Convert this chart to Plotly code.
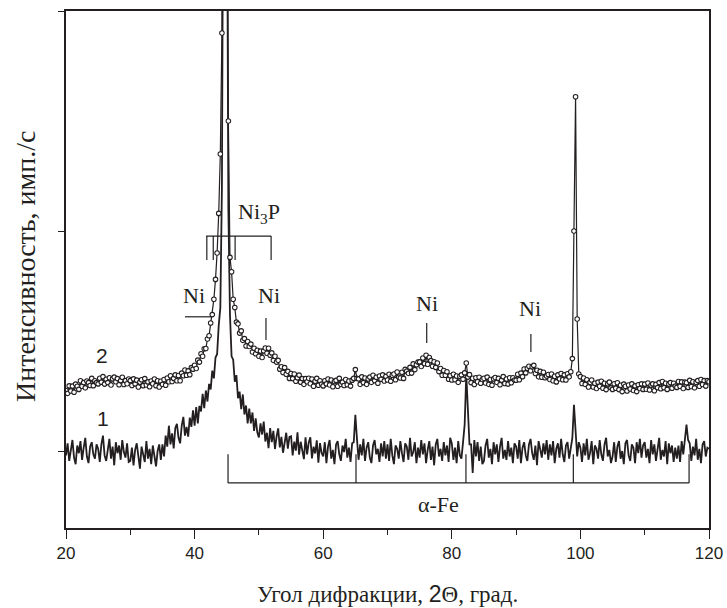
import plotly.graph_objects as go

# 2-theta scan grid: 20..120 deg, step 0.25 deg
x_start, x_step = 20.0, 0.25

# curve 1 (lower, solid line) intensity, arbitrary units (1000 per y tick)
y1 = [
    -20, 35, -45, 10, 50, -30, -60, 25, -10, 45, -40, 15, 60, -25, -55, 20, 40, -15, -35, 30,
    10, -50, 30, 70, -20, -45, 5, 55, -35, 20, -65, 40, -10, 25, -40, 50, -5, -30, 35, -50,
    -45, 15, -65, 5, 35, -30, -80, 20, -10, -50, 45, -35, 10, -60, 25, -25, -70, 0, 30, -40,
    30, -25, 70, 20, 115, 30, 80, 12, 105, 123, 60, 35, 115, 155, 70, 110, 65, 152, 110, 185,
    115, 200, 125, 205, 180, 260, 195, 275, 225, 305, 280, 365, 330, 425, 440, 570, 650, 1200, 3000, 5000,
    3000, 1100, 620, 430, 415, 315, 345, 240, 270, 190, 257, 166, 207, 125, 193, 126, 175, 91, 148, 85,
    62, 126, 75, 134, 43, 83, 13, 104, 40, 92, 9, 66, 103, 16, 64, -8, 45, 83, 11, 64,
    67, -20, 43, 2, 85, -17, 42, 10, -37, 62, -15, 39, 62, -34, 20, -11, 48, -53, 36, -9,
    -25, 40, -55, 20, 50, -35, 5, -60, 30, 45, -15, -45, 25, -5, 55, -30, 15, -50, 35, 40,
    165, 55, -40, 30, -20, 55, -45, 15, 40, -30, -55, 25, 50, -15, 10, -50, 35, -25, 45, -35,
    30, -45, 55, -20, -60, 25, 10, -35, 45, -10, -50, 35, 20, -40, 60, -25, -5, 40, -55, 15,
    -30, 50, -15, 35, -55, 5, 45, -40, 20, -65, 30, 55, -25, 10, -45, 40, -20, 25, -50, 60,
    35, -40, 15, -55, 45, -20, -35, 40, 120, 350, 150, 30, 30, -100, 50, -25, 40, -45, 20, -60,
    -45, 25, 55, -30, 10, -60, 40, -15, 30, -50, 20, 60, -35, 5, -40, 45, -25, 15, -55, 35,
    20, -35, 50, -55, 15, 40, -20, -45, 30, 55, -10, -40, 25, -65, 45, 0, -30, 35, -15, 50,
    -40, 30, -20, 45, -55, 10, 35, -30, 55, -15, -50, 25, 40, -35, 15, 60, 210, 80, -25, 40,
    15, -50, 35, -20, 55, -40, -10, 45, -60, 25, 10, -35, 50, -15, -45, 30, 60, -25, 5, -55,
    -25, 40, -50, 20, 45, -35, 0, -60, 35, 50, -20, -45, 30, 15, -55, 40, -10, 55, -30, 25,
    40, -30, 10, -55, 50, -15, 30, -45, 20, 60, -40, 5, -25, 45, -60, 35, -10, 25, -50, 15,
    -35, 25, -50, 45, -15, 60, 120, 50, 35, -45, 20, -20, 55, -40, 10, -55, 30, 45, -25, 15,
    10,
]

# curve 2 (upper, open circles) intensity
y2 = [
    275, 262, 296, 273, 295, 267, 304, 294, 280, 319, 294, 311, 287, 318, 311, 298, 330, 297, 319, 311,
    305, 331, 313, 338, 304, 326, 311, 333, 300, 328, 336, 315, 329, 301, 320, 335, 302, 320, 306, 327,
    320, 298, 328, 305, 322, 291, 313, 324, 297, 329, 300, 314, 292, 318, 306, 327, 297, 319, 291, 317,
    303, 325, 299, 332, 315, 342, 316, 330, 346, 319, 343, 319, 354, 342, 368, 344, 364, 347, 379, 372,
    390, 375, 413, 404, 442, 431, 465, 466, 509, 524, 582, 620, 690, 780, 900, 1080, 1350, 1900, 3200, 6000,
    3000, 1500, 880, 815, 690, 652, 586, 578, 536, 546, 503, 511, 477, 498, 475, 486, 450, 467, 442, 458,
    431, 454, 425, 455, 468, 444, 467, 435, 446, 412, 431, 404, 412, 372, 383, 357, 379, 349, 362, 330,
    352, 329, 350, 317, 333, 345, 313, 329, 303, 329, 315, 331, 306, 327, 294, 317, 330, 299, 319, 304,
    296, 319, 305, 327, 300, 323, 292, 316, 321, 294, 330, 303, 313, 298, 325, 301, 318, 295, 322, 330,
    370, 330, 328, 303, 337, 311, 332, 303, 327, 336, 312, 344, 320, 335, 308, 341, 326, 346, 318, 339,
    323, 349, 317, 344, 350, 324, 359, 336, 332, 358, 330, 371, 363, 353, 380, 354, 396, 370, 392, 404,
    405, 384, 423, 397, 435, 394, 425, 411, 385, 406, 380, 400, 361, 375, 344, 366, 344, 360, 326, 342,
    323, 349, 324, 341, 312, 340, 346, 326, 355, 400, 336, 347, 311, 331, 302, 333, 315, 335, 308, 325,
    331, 309, 336, 303, 325, 299, 328, 334, 312, 330, 301, 322, 338, 307, 327, 304, 333, 310, 333, 323,
    322, 349, 324, 354, 338, 373, 355, 376, 385, 365, 383, 389, 352, 367, 337, 362, 335, 358, 333, 341,
    348, 325, 350, 319, 340, 314, 346, 328, 352, 324, 346, 323, 351, 337, 360, 420, 1000, 1610, 600, 350,
    338, 307, 332, 303, 324, 291, 312, 323, 291, 308, 284, 313, 294, 317, 285, 308, 279, 305, 313, 287,
    280, 306, 285, 310, 279, 299, 270, 304, 294, 273, 300, 282, 305, 275, 296, 270, 301, 284, 305, 280,
    304, 281, 309, 277, 299, 305, 274, 303, 288, 311, 283, 316, 288, 308, 280, 304, 311, 285, 308, 295,
    289, 316, 294, 314, 284, 313, 310, 289, 321, 293, 315, 287, 312, 320, 294, 325, 302, 320, 295, 320,
    315,
]

x = [x_start + x_step * i for i in range(len(y1))]

x_ticks = [20, 40, 60, 80, 100, 120]
x_minor = [30, 50, 70, 90, 110]
y_ticks = [0, 1000, 2000]

# reflection markers (2-theta positions)
ni3p_pos = [41.9, 42.9, 46.3, 51.9]
fe_pos = [45.2, 65.1, 82.2, 98.9, 116.9]

INK = "#231f20"
SERIF = "Liberation Serif"
SANS = "Liberation Sans"

fig = go.Figure()
fig.add_trace(go.Scatter(x=x, y=y1, mode="lines",
                         line=dict(color=INK, width=1.8), showlegend=False))
fig.add_trace(go.Scatter(x=x, y=y2, mode="lines+markers",
                         line=dict(color=INK, width=1.2),
                         marker=dict(symbol="circle", size=4.5, color="white",
                                     line=dict(color=INK, width=1.1)),
                         showlegend=False))

shapes = []
def seg(x0, y0, x1, y1_, w=1.2):
    shapes.append(dict(type="line", xref="x", yref="y", x0=x0, y0=y0, x1=x1, y1=y1_,
                       line=dict(color=INK, width=w)))

# Ni3P bracket
seg(41.8, 977, 51.9, 977)
for p in ni3p_pos:
    seg(p, 977, p, 868)
# Ni markers
seg(38.5, 610, 42.6, 610)
seg(51.1, 605, 51.1, 505)
seg(76.1, 582, 76.1, 491)
seg(92.3, 532, 92.3, 450)
# alpha-Fe bracket
seg(fe_pos[0], -145, fe_pos[-1], -145)
for p in fe_pos:
    seg(p, -145, p, -15)

ann = []
def txt(xv, yv, t, size=22, fam=SERIF):
    ann.append(dict(x=xv, y=yv, xref="x", yref="y", text=t, showarrow=False,
                    font=dict(family=fam, size=size, color=INK),
                    xanchor="center", yanchor="middle"))

txt(50.0, 1080, "Ni<sub>3</sub>P")
txt(39.9, 705, "Ni")
txt(51.6, 705, "Ni")
txt(76.2, 670, "Ni")
txt(92.2, 648, "Ni")
txt(78.0, -241, "α-Fe")
txt(25.6, 436, "2", size=21, fam=SANS)
txt(25.75, 150, "1", size=21, fam=SANS)

ann.append(dict(x=0.5, y=-0.128, xref="paper", yref="paper", showarrow=False,
                text="Угол дифракции, <span style='font-family:Liberation Sans'>2</span>Θ, град.",
                font=dict(family=SERIF, size=23, color=INK),
                xanchor="center", yanchor="middle"))
ann.append(dict(x=-0.062, y=0.507, xref="paper", yref="paper", showarrow=False,
                text="Интенсивность, имп./с", textangle=-90,
                font=dict(family=SERIF, size=28, color=INK),
                xanchor="center", yanchor="middle"))

fig.update_layout(
    width=727, height=608,
    margin=dict(l=66, r=18, t=11, b=80),
    paper_bgcolor="white", plot_bgcolor="white",
    shapes=shapes, annotations=ann,
    xaxis=dict(range=[20, 120], tickvals=x_ticks, ticktext=[str(v) for v in x_ticks],
               ticks="outside", ticklen=9, tickwidth=1.3, tickcolor=INK,
               minor=dict(tickvals=x_minor, ticks="outside", ticklen=5, tickwidth=1.3, tickcolor=INK),
               showline=True, linecolor=INK, linewidth=1.5, mirror=True,
               showgrid=False, zeroline=False, automargin=False,
               tickfont=dict(family=SANS, size=17, color=INK)),
    yaxis=dict(range=[-350, 2000], tickvals=y_ticks, showticklabels=False,
               ticks="outside", ticklen=6, tickwidth=1.3, tickcolor=INK,
               showline=True, linecolor=INK, linewidth=1.5, mirror=True,
               showgrid=False, zeroline=False, automargin=False),
)

fig.write_html("out.html", config={"displayModeBar": False},
               post_script="document.body.style.margin='0';document.body.style.overflow='hidden';")
